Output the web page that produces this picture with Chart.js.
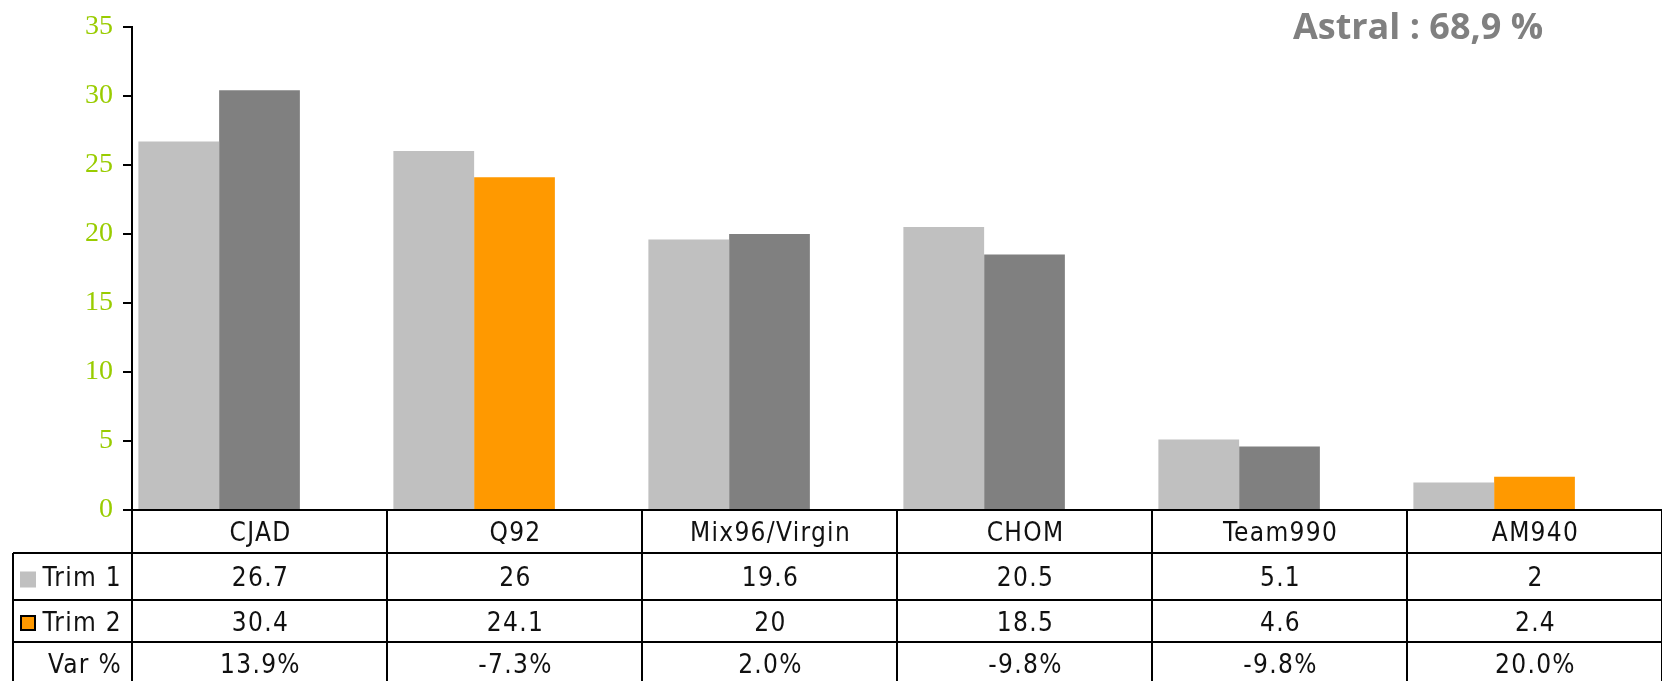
<!DOCTYPE html>
<html>
<head>
<meta charset="utf-8">
<script src="https://cdn.jsdelivr.net/npm/chart.js@4/dist/chart.umd.min.js"></script>
<style>
  html, body { margin: 0; padding: 0; background: #fff; }
  #wrap { width: 1662px; height: 681px; position: relative; }
</style>
</head>
<body>
<div id="wrap"><canvas id="c" width="1662" height="681"></canvas></div>
<script>
// ---- data ----
const categories = ['CJAD', 'Q92', 'Mix96/Virgin', 'CHOM', 'Team990', 'AM940'];
const trim1 = [26.7, 26, 19.6, 20.5, 5.1, 2];
const trim2 = [30.4, 24.1, 20, 18.5, 4.6, 2.4];
const varPct = [13.9, -7.3, 2.0, -9.8, -9.8, 20.0];
const trim1Labels = ['26.7', '26', '19.6', '20.5', '5.1', '2'];
const trim2Labels = ['30.4', '24.1', '20', '18.5', '4.6', '2.4'];
const varLabels = ['13.9%', '-7.3%', '2.0%', '-9.8%', '-9.8%', '20.0%'];
const astralStations = ['Q92', 'AM940'];
const yTicks = [0, 5, 10, 15, 20, 25, 30, 35];
const titleText = 'Astral : 68,9 %';

// ---- styles ----
const GRAY1 = '#C0C0C0', GRAY2 = '#808080', ORANGE = '#FF9900';

const tablePlugin = {
  id: 'tablePlugin',
  afterDraw(chart) {
    const ctx = chart.ctx;
    const xs = chart.scales.x;
    const ca = chart.chartArea;
    const W = chart.width;
    const n = categories.length;
    const colW = (ca.right - ca.left) / n;
    const top = ca.bottom;
    const rowY = [top, top + 43, top + 90, top + 132, top + 175];
    const tableLeft = 13;
    ctx.save();
    ctx.strokeStyle = '#000';
    ctx.lineWidth = 2;
    ctx.beginPath();
    ctx.moveTo(ca.left, rowY[0]); ctx.lineTo(W, rowY[0]);
    for (let r = 1; r <= 3; r++) { ctx.moveTo(tableLeft, rowY[r]); ctx.lineTo(W, rowY[r]); }
    for (let i = 0; i <= n; i++) {
      const x = ca.left + i * colW;
      ctx.moveTo(x, rowY[0]); ctx.lineTo(x, chart.height);
    }
    ctx.moveTo(tableLeft, rowY[1]); ctx.lineTo(tableLeft, chart.height);
    ctx.stroke();

    ctx.fillStyle = '#111';
    ctx.font = '26px "DejaVu Sans Condensed", "DejaVu Sans", sans-serif';
    ctx.fontStretch = 'condensed';
    ctx.letterSpacing = '1.3px';
    ctx.textBaseline = 'middle';
    ctx.textAlign = 'center';
    const rows = [categories, trim1Labels, trim2Labels, varLabels];
    rows.forEach((arr, r) => {
      const yc = (rowY[r] + rowY[r + 1]) / 2 + 3;
      arr.forEach((t, i) => {
        const xc = xs.getPixelForValue(i) + 1;
        ctx.fillText(t, xc, yc);
      });
    });
    ctx.textAlign = 'right';
    const heads = ['Trim 1', 'Trim 2', 'Var %'];
    heads.forEach((t, k) => {
      const yc = (rowY[k + 1] + rowY[k + 2]) / 2 + 3;
      ctx.fillText(t, 122, yc);
    });
    const y1 = (rowY[1] + rowY[2]) / 2 + 2;
    ctx.fillStyle = GRAY1;
    ctx.fillRect(20, y1 - 7, 16, 16);
    const y2 = (rowY[2] + rowY[3]) / 2 + 2;
    ctx.fillStyle = ORANGE;
    ctx.fillRect(21, y2 - 7, 14, 14);
    ctx.lineWidth = 2;
    ctx.strokeStyle = '#000';
    ctx.strokeRect(21, y2 - 7, 14, 14);

    ctx.letterSpacing = '0px';
    ctx.fontStretch = 'normal';
    ctx.fillStyle = GRAY2;
    ctx.font = 'bold 36px "Open Sans", sans-serif';
    ctx.textAlign = 'center';
    ctx.textBaseline = 'middle';
    ctx.fillText(titleText, 1418, 29);
    ctx.restore();
  }
};

new Chart(document.getElementById('c'), {
  type: 'bar',
  data: {
    labels: categories,
    datasets: [
      { label: 'Trim 1', data: trim1, backgroundColor: GRAY1 },
      { label: 'Trim 2', data: trim2,
        backgroundColor: ctx => astralStations.includes(categories[ctx.dataIndex]) ? ORANGE : GRAY2 },
      { label: 'Var %', data: varPct.map(v => v / 100), backgroundColor: 'rgba(0,0,0,0)' }
    ]
  },
  options: {
    responsive: false,
    animation: false,
    events: [],
    layout: { padding: { top: 23, bottom: 171, left: 0, right: 0 } },
    datasets: { bar: { categoryPercentage: 0.95, barPercentage: 1.0 } },
    plugins: { legend: { display: false }, tooltip: { enabled: false }, title: { display: false } },
    scales: {
      x: { display: false },
      y: {
        min: 0, max: 35,
        afterFit: s => { s.width = 132; },
        afterBuildTicks: s => { s.ticks = yTicks.map(v => ({ value: v })); },
        border: { display: true, color: '#000', width: 2 },
        grid: { drawOnChartArea: false, drawTicks: true, tickLength: 9, color: '#000', lineWidth: 2 },
        ticks: {
          color: '#99CC00',
          padding: 10,
          font: { family: '"Liberation Serif", "Times New Roman", serif', size: 28 }
        }
      }
    }
  },
  plugins: [tablePlugin]
});
</script>
</body>
</html>
